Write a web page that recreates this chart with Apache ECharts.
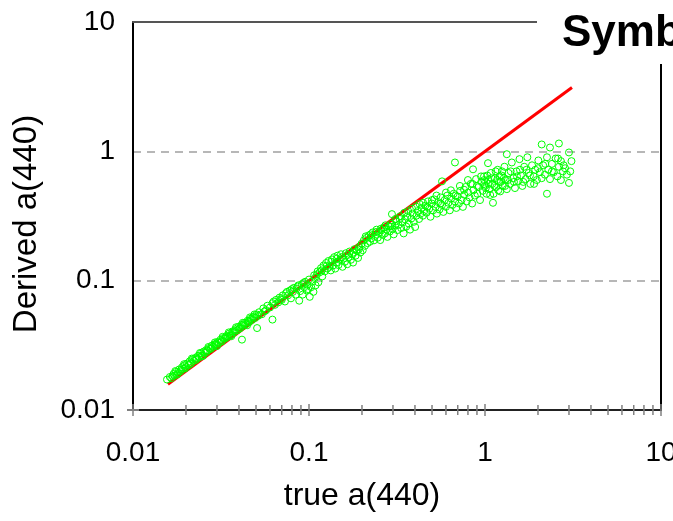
<!DOCTYPE html>
<html>
<head>
<meta charset="utf-8">
<script src="https://cdn.jsdelivr.net/npm/echarts@6/dist/echarts.min.js"></script>
<style>
  html, body { margin: 0; padding: 0; background: #fff; overflow: hidden; }
  #chart { width: 673px; height: 521px; }
</style>
</head>
<body>
<div id="chart"></div>
<script>
// ---- data ----
const xAxisName = 'true a(440)';
const yAxisName = 'Derived a(440)';
const chartTitle = 'Symbols';
const axisMin = 0.01;
const axisMax = 10;
const tickLabels = ['0.01', '0.1', '1', '10'];
const minorTicks = [0.02,0.03,0.04,0.05,0.06,0.07,0.08,0.09,
                    0.2,0.3,0.4,0.5,0.6,0.7,0.8,0.9,
                    2,3,4,5,6,7,8,9];
const majorTicks = [0.01, 0.1, 1, 10];

// 1:1 reference line
const oneToOne = [[0.0158, 0.0158], [3.12, 3.12]];

// scatter points [true a(440), derived a(440)]
const ptsLow = [
  [0.0156,0.0172],[0.0162,0.0180],[0.0165,0.0176],[0.0168,0.0183],[0.0170,0.0190],[0.0172,0.0184],
  [0.0176,0.0197],[0.0178,0.0188],[0.0180,0.0193],[0.0183,0.0206],[0.0186,0.0199],[0.0188,0.0205],
  [0.0190,0.0214],[0.0193,0.0208],[0.0196,0.0221],[0.0198,0.0210],[0.0200,0.0215],[0.0203,0.0229],
  [0.0207,0.0222],[0.0210,0.0238],[0.0212,0.0228],[0.0214,0.0231],[0.0218,0.0246],[0.0222,0.0240],
  [0.0226,0.0253],[0.0228,0.0244],[0.0230,0.0249],[0.0234,0.0262],[0.0238,0.0256],[0.0243,0.0274],
  [0.0245,0.0260],[0.0247,0.0265],[0.0252,0.0283],[0.0256,0.0277],[0.0260,0.0290],[0.0262,0.0280],
  [0.0265,0.0289],[0.0270,0.0301],[0.0275,0.0296],[0.0278,0.0300],[0.0280,0.0314],[0.0285,0.0308],
  [0.0290,0.0322],[0.0296,0.0318],[0.0298,0.0325],[0.0302,0.0336],[0.0308,0.0330],[0.0314,0.0349],
  [0.0317,0.0338],[0.0320,0.0342],[0.0326,0.0360],[0.0333,0.0356],[0.0336,0.0365],[0.0340,0.0374],
  [0.0346,0.0368],[0.0353,0.0390],[0.0356,0.0375],[0.0360,0.0382],[0.0367,0.0405],[0.0375,0.0398],
  [0.0378,0.0410],[0.0382,0.0422],[0.0390,0.0412],[0.0398,0.0440],[0.0402,0.0425],[0.0406,0.0430],
  [0.0414,0.0455],[0.0416,0.0350],[0.0422,0.0446],[0.0425,0.0460],[0.0430,0.0472],[0.0439,0.0462],
  [0.0448,0.0490],[0.0452,0.0482],[0.0457,0.0478],[0.0466,0.0508],[0.0475,0.0497],[0.0480,0.0520],
  [0.0485,0.0529],[0.0495,0.0515],
  [0.0174,0.0200],[0.0195,0.0226],[0.0216,0.0250],[0.0240,0.0276],[0.0268,0.0307],[0.0292,0.0333],
  [0.0323,0.0368],[0.0350,0.0398],[0.0385,0.0436],[0.0420,0.0472],[0.0462,0.0520],[0.0490,0.0548],
  [0.0250,0.0262],[0.0300,0.0312],[0.0362,0.0372],[0.0445,0.0452]
];
const ptsMid = [
  [0.0505,0.0548],[0.0507,0.0430],[0.0515,0.0535],[0.052,0.057],[0.054,0.055],[0.055,0.061],
  [0.056,0.058],[0.057,0.059],[0.058,0.064],[0.060,0.062],[0.062,0.050],[0.062,0.067],[0.063,0.069],
  [0.064,0.065],[0.065,0.071],[0.067,0.068],[0.068,0.074],[0.069,0.072],[0.070,0.071],[0.071,0.077],
  [0.073,0.069],[0.074,0.080],[0.075,0.082],[0.076,0.077],[0.078,0.084],[0.079,0.073],[0.080,0.086],
  [0.081,0.082],[0.082,0.088],[0.084,0.078],[0.085,0.087],[0.086,0.090],[0.087,0.092],[0.088,0.070],
  [0.089,0.083],[0.091,0.094],[0.092,0.078],[0.093,0.096],[0.094,0.089],[0.095,0.098],[0.097,0.084],
  [0.098,0.093],[0.099,0.086],[0.100,0.102],[0.101,0.075],[0.103,0.089],[0.104,0.098],[0.106,0.082],
  [0.107,0.110],[0.108,0.105],[0.109,0.092],[0.111,0.112],[0.112,0.118],[0.113,0.097],[0.115,0.116],
  [0.117,0.125],[0.118,0.120],[0.119,0.108],[0.121,0.131],[0.123,0.118],[0.125,0.137],[0.126,0.130],
  [0.127,0.124],[0.129,0.142],[0.131,0.128],[0.133,0.120],[0.134,0.140],[0.135,0.146],[0.137,0.131],
  [0.139,0.152],[0.141,0.124],[0.143,0.138],[0.144,0.148],[0.145,0.156],[0.147,0.132],[0.150,0.145],
  [0.152,0.160],[0.154,0.152],[0.155,0.128],[0.157,0.148],[0.160,0.140],[0.162,0.163],[0.165,0.134],
  [0.166,0.158],[0.168,0.152],[0.170,0.168],[0.173,0.145],[0.176,0.160],[0.178,0.138],[0.179,0.165],
  [0.181,0.175],[0.184,0.156],[0.187,0.170],[0.190,0.150],[0.192,0.175],[0.193,0.182],[0.196,0.165],
  [0.199,0.193],[0.202,0.172]
];
const ptsUpper = [
  [0.205,0.205],[0.208,0.186],[0.210,0.220],[0.212,0.214],[0.215,0.195],[0.219,0.224],[0.222,0.200],
  [0.224,0.228],[0.226,0.212],[0.230,0.236],[0.234,0.205],[0.238,0.222],[0.240,0.238],[0.242,0.248],
  [0.246,0.215],[0.250,0.234],[0.254,0.206],[0.256,0.252],[0.258,0.245],[0.262,0.226],[0.266,0.258],
  [0.270,0.232],[0.272,0.268],[0.275,0.248],[0.279,0.218],[0.284,0.262],[0.288,0.240],[0.290,0.262],
  [0.293,0.275],[0.296,0.327],[0.298,0.250],[0.303,0.228],[0.308,0.266],[0.310,0.300],[0.313,0.288],
  [0.318,0.246],[0.323,0.270],[0.328,0.300],[0.330,0.315],[0.334,0.255],[0.340,0.282],[0.345,0.232],
  [0.348,0.335],[0.351,0.298],[0.357,0.262],[0.363,0.315],[0.366,0.345],[0.369,0.276],[0.375,0.248],
  [0.381,0.302],[0.385,0.360],[0.388,0.330],[0.394,0.285],[0.401,0.260],[0.405,0.375],[0.408,0.318],
  [0.415,0.345],[0.422,0.300],[0.425,0.392],[0.429,0.328],[0.436,0.365],[0.444,0.318],[0.445,0.400],
  [0.451,0.345],[0.458,0.380],[0.466,0.335],[0.470,0.372],[0.474,0.410],[0.482,0.360],[0.490,0.312],
  [0.498,0.395],[0.500,0.420],[0.507,0.350],[0.515,0.425],[0.524,0.372],[0.530,0.455],[0.533,0.330],
  [0.542,0.405],[0.551,0.355],[0.560,0.440],[0.560,0.395],[0.570,0.586],[0.570,0.385],[0.580,0.340],
  [0.590,0.420],[0.600,0.372],[0.600,0.480],[0.610,0.455],[0.620,0.400],[0.631,0.350],[0.640,0.500],
  [0.642,0.432],[0.653,0.385],[0.664,0.470],[0.675,0.820],[0.675,0.410],[0.680,0.455],[0.687,0.365],
  [0.699,0.448],[0.711,0.395],[0.720,0.540],[0.723,0.495],[0.736,0.420],[0.749,0.372],[0.760,0.505],
  [0.762,0.462],[0.775,0.530],[0.788,0.410],[0.800,0.600],[0.802,0.480],[0.816,0.440],[0.830,0.560],
  [0.845,0.395],[0.850,0.560],[0.855,0.726],[0.860,0.500],[0.875,0.455],[0.890,0.610],[0.900,0.540],
  [0.905,0.470],[0.921,0.530],[0.937,0.420],[0.950,0.640],[0.953,0.580],[0.970,0.495],[0.987,0.640],
  [0.990,0.560]
];
const ptsHigh = [
  [0.99,0.600],[1.00,0.540],[1.01,0.520],[1.02,0.470],[1.03,0.650],[1.04,0.810],[1.04,0.600],
  [1.05,0.560],[1.06,0.510],[1.07,0.460],[1.08,0.680],[1.09,0.620],[1.10,0.560],[1.11,0.400],
  [1.12,0.470],[1.13,0.540],[1.14,0.620],[1.15,0.700],[1.16,0.530],[1.17,0.600],[1.18,0.720],
  [1.19,0.500],[1.20,0.580],[1.21,0.640],[1.22,0.490],[1.23,0.580],[1.24,0.650],[1.25,0.700],
  [1.26,0.540],[1.28,0.620],[1.29,0.760],[1.30,0.540],[1.31,0.600],[1.33,0.950],[1.33,0.510],
  [1.35,0.600],[1.36,0.680],[1.39,0.560],[1.40,0.700],[1.42,0.820],[1.45,0.620],[1.46,0.580],
  [1.48,0.520],[1.51,0.700],[1.52,0.640],[1.54,0.590],[1.57,0.870],[1.58,0.720],[1.60,0.650],
  [1.63,0.540],[1.65,0.580],[1.67,0.760],[1.70,0.610],[1.72,0.720],[1.74,0.900],[1.77,0.680],
  [1.80,0.650],[1.81,0.560],[1.85,0.780],[1.89,0.640],[1.90,0.560],[1.93,0.720],[1.97,0.600],
  [2.00,0.740],[2.01,0.850],[2.05,0.690],[2.10,1.13],[2.10,0.620],[2.14,0.780],[2.19,0.660],
  [2.20,0.800],[2.25,0.470],[2.25,0.900],[2.29,0.720],[2.34,1.07],[2.34,0.610],[2.40,0.800],
  [2.40,0.700],[2.46,0.690],[2.52,0.880],[2.58,0.640],[2.60,0.880],[2.63,1.15],[2.63,0.760],
  [2.70,0.600],[2.70,0.840],[2.77,0.700],[2.80,0.780],[2.85,0.740],[2.92,0.660],[3.00,0.980],
  [3.00,0.570],[3.05,0.700],[3.10,0.840]
];
const scatterPoints = ptsLow.concat(ptsMid, ptsUpper, ptsHigh);

// ---- chart ----
const FONT = '"Liberation Sans", Arial, sans-serif';
const chart = echarts.init(document.getElementById('chart'), null, { renderer: 'canvas' });

function labelFmt(v) {
  const i = majorTicks.findIndex(m => Math.abs(Math.log10(m) - Math.log10(v)) < 1e-6);
  return i >= 0 ? tickLabels[i] : '';
}

function tickRenderer(isX) {
  return function (params, api) {
    const v = api.value(0);
    const major = majorTicks.some(m => Math.abs(Math.log10(m) - Math.log10(v)) < 1e-6);
    const half = major ? 6 : 5;
    const p = isX ? api.coord([v, axisMin]) : api.coord([axisMin, v]);
    const shape = isX
      ? { x1: p[0], y1: p[1] - half, x2: p[0], y2: p[1] + half }
      : { x1: p[0] - half, y1: p[1], x2: p[0] + half, y2: p[1] };
    return { type: 'line', shape: shape, style: { stroke: '#808080', lineWidth: 1.5 } };
  };
}

const allTicks = majorTicks.concat(minorTicks);

chart.setOption({
  animation: false,
  backgroundColor: '#ffffff',
  title: {
    text: chartTitle,
    left: 562,
    top: 12,
    padding: 0,
    z: 101,
    textStyle: { fontFamily: FONT, fontSize: 44, fontWeight: 'bold', color: '#000' }
  },
  graphic: [{
    type: 'rect',
    z: 100,
    shape: { x: 537, y: 0, width: 136, height: 64 },
    style: { fill: '#ffffff' }
  }],
  grid: { left: 133, right: 12, top: 22, bottom: 111, containLabel: false, outerBoundsMode: 'none' },
  xAxis: [{
    type: 'log', logBase: 10, min: axisMin, max: axisMax, position: 'bottom',
    name: xAxisName, nameLocation: 'middle', nameGap: 70,
    nameTextStyle: { fontFamily: FONT, fontSize: 32, color: '#000', padding: [0, 70, 0, 0] },
    axisLine: { show: true, lineStyle: { color: '#222', width: 2 } },
    axisTick: { show: false },
    axisLabel: { fontFamily: FONT, fontSize: 28, color: '#000', margin: 29, formatter: labelFmt },
    splitLine: { show: false }
  }, {
    type: 'log', logBase: 10, min: axisMin, max: axisMax, position: 'top',
    axisLine: { show: true, lineStyle: { color: '#555', width: 2 } },
    axisTick: { show: false }, axisLabel: { show: false }, splitLine: { show: false }
  }],
  yAxis: [{
    type: 'log', logBase: 10, min: axisMin, max: axisMax, position: 'left',
    name: yAxisName, nameLocation: 'middle', nameGap: 90, nameRotate: 90,
    nameTextStyle: { fontFamily: FONT, fontSize: 33, color: '#000', padding: [0, 16, 0, 0] },
    axisLine: { show: true, lineStyle: { color: '#000', width: 2 } },
    axisTick: { show: false },
    axisLabel: { fontFamily: FONT, fontSize: 28, color: '#000', margin: 18, formatter: labelFmt },
    splitLine: { show: true, lineStyle: { color: '#a0a0a0', width: 1.5, type: [8, 6] } }
  }, {
    type: 'log', logBase: 10, min: axisMin, max: axisMax, position: 'right',
    axisLine: { show: true, lineStyle: { color: '#000', width: 2 } },
    axisTick: { show: false }, axisLabel: { show: false }, splitLine: { show: false }
  }],
  series: [{
    type: 'line',
    data: oneToOne,
    symbol: 'none',
    z: 2,
    lineStyle: { color: '#ff0000', width: 3 }
  }, {
    type: 'scatter',
    data: scatterPoints,
    symbol: 'circle',
    symbolSize: 7,
    z: 3,
    itemStyle: { color: 'rgba(0,0,0,0)', borderColor: '#00ff00', borderWidth: 1, opacity: 1 }
  }, {
    type: 'custom',
    clip: false,
    z: 5,
    silent: true,
    renderItem: tickRenderer(true),
    data: allTicks.map(v => [v, axisMin])
  }, {
    type: 'custom',
    clip: false,
    z: 5,
    silent: true,
    renderItem: tickRenderer(false),
    data: allTicks.map(v => [axisMin, v])
  }]
});
</script>
</body>
</html>
